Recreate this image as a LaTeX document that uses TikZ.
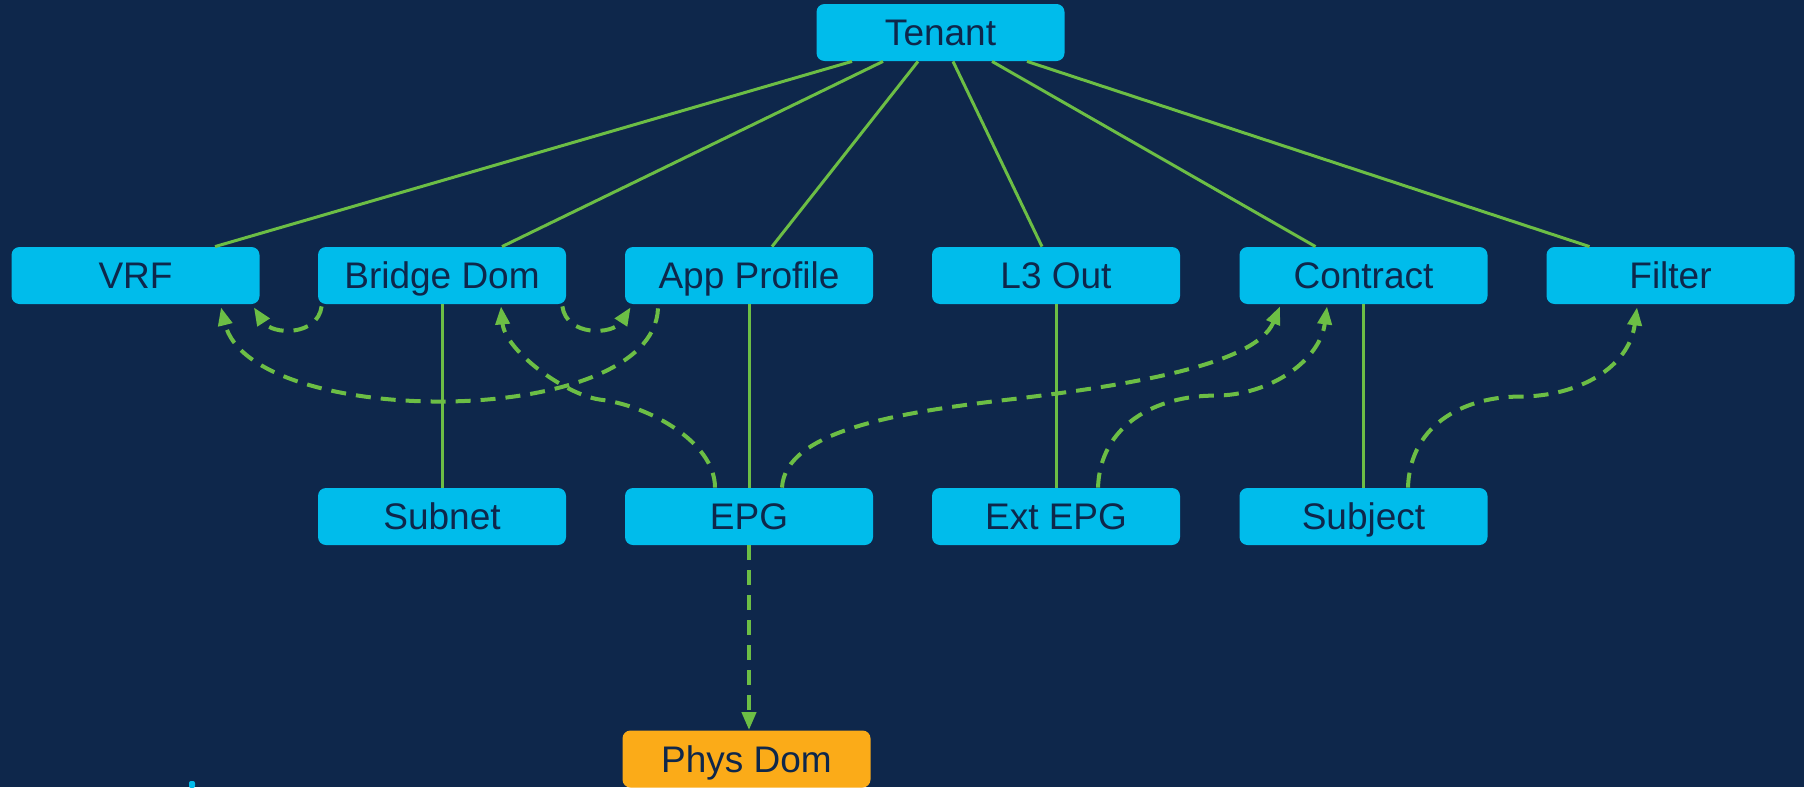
\documentclass[tikz,border=0pt]{standalone}
\usepackage{fontspec}
\setmainfont{Liberation Sans}
\usetikzlibrary{arrows.meta,calc}
\definecolor{bgnavy}{HTML}{0E274B}
\definecolor{boxcyan}{HTML}{00BCEB}
\definecolor{linegreen}{HTML}{6CBE45}
\definecolor{physorange}{HTML}{FBAB18}
\definecolor{textnavy}{HTML}{0E274B}
\tikzset{
  obj/.style={draw=none, fill=boxcyan, rounded corners=4pt, minimum width=124pt, minimum height=28.5pt,
    inner sep=0pt, text height=13.2pt, text depth=0pt, text=textnavy,
    font=\fontsize{18.5pt}{20pt}\selectfont},
  domobj/.style={obj, fill=physorange},
  rel/.style={draw=linegreen, line width=1.5pt},
  ref/.style={draw=linegreen, line width=2pt, dash pattern=on 7.5pt off 5pt,
    -{Triangle[length=9pt,width=7pt]}, fill=none},
}
\begin{document}
\begin{tikzpicture}[x=0.5pt,y=-0.5pt]
\fill[bgnavy] (0,0) rectangle (1804,787);
\useasboundingbox (0,0) rectangle (1804,787);
% nodes
\node[obj] (tenant) at (940.5,32.5) {Tenant};
\node[obj] (vrf) at (135.5,275.5) {VRF};
\node[obj] (bd) at (442,275.5) {Bridge Dom};
\node[obj] (ap) at (749,275.5) {App Profile};
\node[obj] (l3) at (1056,275.5) {L3 Out};
\node[obj] (contract) at (1363.5,275.5) {Contract};
\node[obj] (filter) at (1670.5,275.5) {Filter};
\node[obj] (subnet) at (442,516.5) {Subnet};
\node[obj] (epg) at (749,516.5) {EPG};
\node[obj] (extepg) at (1056,516.5) {Ext EPG};
\node[obj] (subject) at (1363.5,516.5) {Subject};
\node[domobj] (physdom) at (746.5,759) {Phys Dom};
% tenant relations
\draw[rel] ($(tenant.south)+(-88.5,0)$) -- ($(vrf.north)+(79.5,0)$);
\draw[rel] ($(tenant.south)+(-57.5,0)$) -- ($(bd.north)+(60,0)$);
\draw[rel] ($(tenant.south)+(-22.5,0)$) -- ($(ap.north)+(23,0)$);
\draw[rel] ($(tenant.south)+(12.5,0)$) -- ($(l3.north)+(-14,0)$);
\draw[rel] ($(tenant.south)+(51.5,0)$) -- ($(contract.north)+(-48,0)$);
\draw[rel] ($(tenant.south)+(86.5,0)$) -- ($(filter.north)+(-81,0)$);
% child relations
\draw[rel] (bd.south) -- (subnet.north);
\draw[rel] (ap.south) -- (epg.north);
\draw[rel] (l3.south) -- (extepg.north);
\draw[rel] (contract.south) -- (subject.north);
% references
\draw[ref] ($(bd.south west)+(4,2)$) .. controls +(-4,30) and +(18,28) .. ($(vrf.south east)+(-6,3)$);
\draw[ref] ($(bd.south east)+(-4,2)$) .. controls +(4,30) and +(-18,28) .. ($(ap.south west)+(6,3)$);
\draw[ref] ($(ap.south)+(-91,4)$) .. controls +(-5,122) and +(30,122) .. ($(vrf.south)+(85.5,3)$);
% EPG -> Bridge Dom
\draw[ref] ($(epg.north)+(-34,0)$) .. controls +(0,-47) and +(45,5) .. ($(epg.north)+(-149,-88)$)
  .. controls +(-35,-5) and +(4,44) .. ($(bd.south)+(59,2)$);
% EPG -> Contract
\draw[ref] ($(epg.north)+(33,0)$) .. controls +(3,-57) and +(-100,12) .. ($(epg.north)+(251,-87)$)
  .. controls +(120,-14) and +(-25,60) .. ($(contract.south)+(-83.5,2)$);
% Ext EPG -> Contract
\draw[ref] ($(extepg.north)+(42,0)$) .. controls +(2,-62) and +(-60,0) .. ($(extepg.north)+(159,-92)$)
  .. controls +(55,0) and +(-7,54) .. ($(contract.south)+(-36.5,2)$);
% Subject -> Filter
\draw[ref] ($(subject.north)+(44.5,0)$) .. controls +(2,-67) and +(-49,0) .. ($(subject.north)+(155.5,-91)$)
  .. controls +(60,0) and +(-8,60) .. ($(filter.south)+(-33.5,3)$);
% EPG -> Phys Dom
\draw[ref] (epg.south) -- (epg.south |- physdom.north);
% cut-off mark at bottom edge
\fill[boxcyan, rounded corners=1pt] (189,788) rectangle (195,781);
\end{tikzpicture}
\end{document}
